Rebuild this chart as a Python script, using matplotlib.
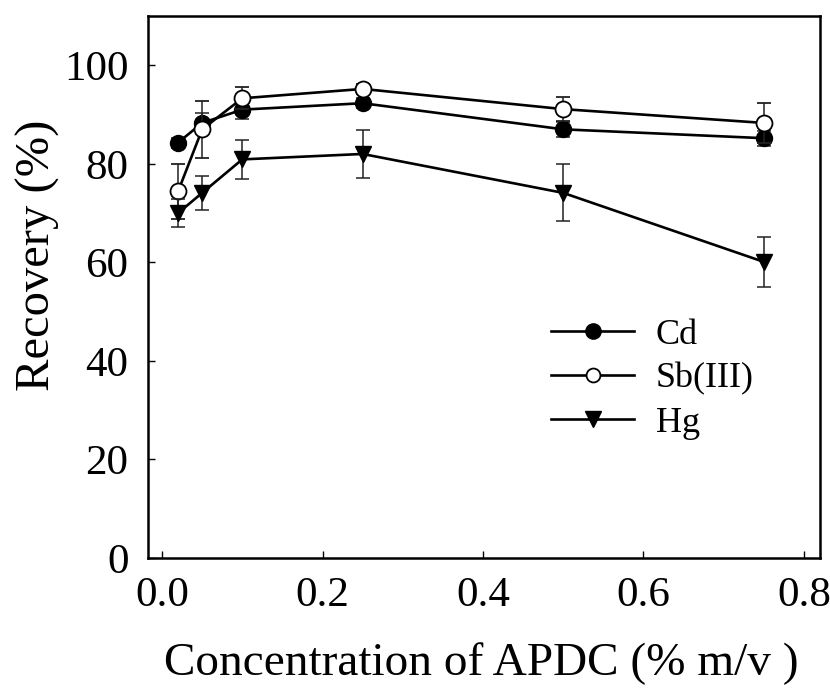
import matplotlib
matplotlib.use("Agg")
import matplotlib.pyplot as plt
from matplotlib.lines import Line2D

plt.rcParams['font.family'] = ['Liberation Serif', 'DejaVu Serif']

# Data
conc = [0.02, 0.05, 0.1, 0.25, 0.5, 0.75]
cd = [84.3, 88.3, 91.0, 92.3, 87.0, 85.2]
cd_err = [1.0, 2.0, 1.9, 1.0, 1.5, 1.5]
sb = [74.4, 87.0, 93.3, 95.2, 91.1, 88.3]
sb_err = [5.6, 5.8, 2.2, 1.0, 2.4, 4.0]
hg = [70.0, 74.1, 80.9, 82.0, 74.1, 60.1]
hg_err = [2.9, 3.5, 3.9, 4.9, 5.8, 5.0]
labels = ["Cd", "Sb(III)", "Hg"]
xticks = [0.0, 0.2, 0.4, 0.6, 0.8]
yticks = [0, 20, 40, 60, 80, 100]

fig = plt.figure(figsize=(8.3, 6.9), dpi=100)
ax = fig.add_axes([148/830, 1-558/690, 672/830, 542/690])

common = dict(color='black', lw=1.9, ms=11.5, ecolor='#222222', elinewidth=1.1,
              capsize=5, capthick=1.1)
ax.errorbar(conc, cd, yerr=cd_err, fmt='-o', mfc='black', mec='black',
            zorder=3, **common)
ax.errorbar(conc, sb, yerr=sb_err, fmt='-o', mfc='white', mec='black',
            mew=1.3, zorder=4, **common)
ax.errorbar(conc, hg, yerr=hg_err, fmt='-v', mfc='black', mec='black',
            zorder=5, **common)

ax.set_xlim(-0.0175, 0.82)
ax.set_ylim(0, 110)
ax.set_xticks(xticks)
ax.set_yticks(yticks)
ax.set_xticklabels([f"{t:.1f}" for t in xticks])
ax.set_yticklabels([str(t) for t in yticks])
ax.tick_params(direction='in', length=5, width=1.0, labelsize=31)
ax.tick_params(axis='y', pad=14)
ax.tick_params(axis='x', pad=13)
for s in ax.spines.values():
    s.set_linewidth(1.8)

ax.set_xlabel("Concentration of APDC (% m/v )", fontsize=34)
ax.set_ylabel("Recovery (%)", fontsize=35)
ax.xaxis.set_label_coords(0.496, -0.155)
ax.yaxis.set_label_coords(-0.131, 0.559)

handles = [
    Line2D([], [], color='black', lw=1.9, marker='o', ms=11, mfc='black', mec='black'),
    Line2D([], [], color='black', lw=1.9, marker='o', ms=10, mfc='white', mec='black', mew=1.3),
    Line2D([], [], color='black', lw=1.9, marker='v', ms=11, mfc='black', mec='black'),
]
ax.legend(handles=handles, labels=labels, loc='center left',
          bbox_to_anchor=(0.600, 0.330), frameon=False, fontsize=26,
          borderaxespad=0, borderpad=0, handlelength=2.3,
          handletextpad=0.6, labelspacing=0.3)

fig.savefig("out.png", dpi=100)
